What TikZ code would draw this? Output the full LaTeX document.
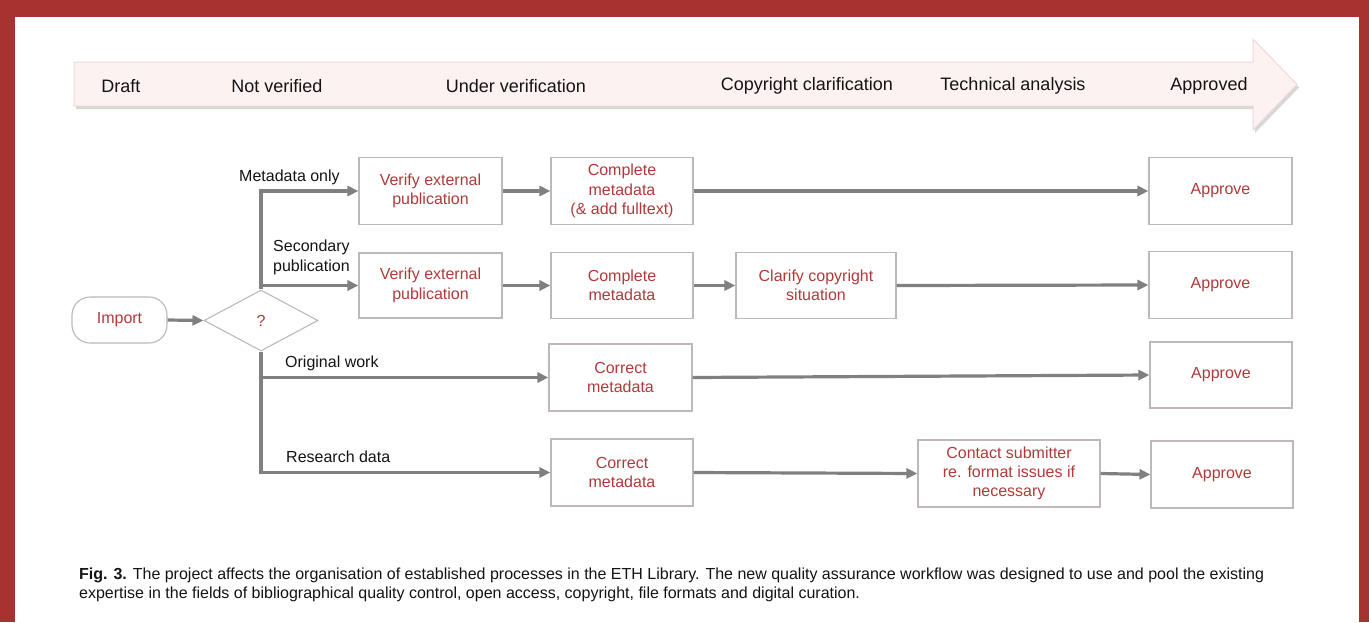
\documentclass[tikz,border=0pt]{standalone}
\usepackage{fontspec}
\setmainfont{Liberation Sans}
\usetikzlibrary{arrows.meta,shapes.geometric,shadows}
\definecolor{framered}{RGB}{168,50,48}
\definecolor{txtred}{RGB}{176,58,58}
\definecolor{boxgray}{RGB}{192,184,184}
\definecolor{linegray}{RGB}{128,128,128}
\definecolor{bannerfill}{RGB}{253,242,242}
\definecolor{bannerline}{RGB}{238,216,216}
\definecolor{txtblack}{RGB}{20,20,20}
\begin{document}
\begin{tikzpicture}[x=1pt,y=-1pt,
  box/.style={draw=boxgray,line width=1.1pt,text=txtred,font=\fontsize{16}{19.3}\selectfont,align=center,inner sep=0pt,fill=white},
  lbl/.style={font=\fontsize{16}{19.3}\selectfont,text=txtblack,inner sep=0pt,align=left},
  stage/.style={font=\fontsize{18}{21}\selectfont,text=txtblack,inner sep=0pt},
  capt/.style={font=\fontsize{16}{19}\selectfont,text=txtblack,inner sep=0pt},
  conn/.style={draw=linegray,line width=3.2pt},
  arr/.style={conn,-{Triangle[length=11pt,width=10pt]}},
  ]
\useasboundingbox (0,0) rectangle (1369,622);
\fill[framered] (0,0) rectangle (1369,622);
\fill[white] (15,17) rectangle (1359,622);

% stage banner
\draw[draw=bannerline,fill=bannerfill,line width=1pt,
  drop shadow={shadow xshift=2pt,shadow yshift=-3pt,opacity=0.22,fill=black!70}]
  (74,62) -- (1253,62) -- (1253,39) -- (1297,84.5) -- (1253,130) -- (1253,106) -- (74,106) -- cycle;
\node[stage] (s1) at (121,86) {Draft};
\node[stage] (s2) at (277,86) {Not verified};
\node[stage] (s3) at (516,86) {Under verification};
\node[stage] (s4) at (807,86) {Copyright clarification};
\node[stage] (s5) at (1013,86) {Technical analysis};
\node[stage] (s6) at (1209,86) {Approved};

% start and decision
\node[box,rounded corners=18pt,minimum width=95pt,minimum height=46pt] (imp) at (119.5,320) {Import};
\node[box,diamond,aspect=1.87,minimum width=114pt,minimum height=61pt] (dq) at (261,320.5) {?};

% row 1
\node[box,minimum width=143pt,minimum height=67pt] (r1a) at (430.5,191) {Verify external\\publication};
\node[box,minimum width=142pt,minimum height=67pt] (r1b) at (622,191) {Complete\\metadata\\(\& add fulltext)};
\node[box,minimum width=143pt,minimum height=67pt] (r1c) at (1220.5,191) {Approve};
% row 2
\node[box,minimum width=143pt,minimum height=65pt] (r2a) at (430.5,285.5) {Verify external\\publication};
\node[box,minimum width=142pt,minimum height=66pt] (r2b) at (622,285.5) {Complete\\metadata};
\node[box,minimum width=160pt,minimum height=66pt] (r2c) at (816,285.5) {Clarify copyright\\situation};
\node[box,minimum width=143pt,minimum height=67pt] (r2d) at (1220.5,285) {Approve};
% row 3
\node[box,minimum width=143pt,minimum height=67pt] (r3a) at (620.5,377.5) {Correct\\metadata};
\node[box,minimum width=142pt,minimum height=66pt] (r3b) at (1221,375) {Approve};
% row 4
\node[box,minimum width=142pt,minimum height=67pt] (r4a) at (622,472.5) {Correct\\metadata};
\node[box,minimum width=182pt,minimum height=67pt] (r4b) at (1009,473.5) {Contact submitter\\re. format issues if\\necessary};
\node[box,minimum width=142pt,minimum height=67pt] (r4c) at (1222,474.5) {Approve};

% branch labels
\node[lbl,anchor=west] (l1) at (239,177) {Metadata only};
\node[lbl,anchor=west] (l2) at (273,257.5) {Secondary\\publication};
\node[lbl,anchor=west] (l3) at (285,363) {Original work};
\node[lbl,anchor=west] (l4) at (286,457) {Research data};

% connectors
\draw[arr] (imp.east) -- (dq.west);
\draw[arr] (dq.north) |- (r1a.west);
\draw[arr] (dq.north) |- (r2a.west);
\draw[arr] (dq.south) |- (r3a.west);
\draw[arr] (dq.south) |- (r4a.west);
\draw[arr] (r1a.east) -- (r1b.west);
\draw[arr] (r1b.east) -- (r1c.west);
\draw[arr] (r2a.east) -- (r2b.west);
\draw[arr] (r2b.east) -- (r2c.west);
\draw[arr] (r2c.east) -- (r2d.west);
\draw[arr] (r3a.east) -- (r3b.west);
\draw[arr] (r4a.east) -- (r4b.west);
\draw[arr] (r4b.east) -- (r4c.west);

% caption
\node[capt,anchor=base west] (c1) at (79,579) {\textbf{Fig. 3.} The project affects the organisation of established processes in the ETH Library. The new quality assurance workflow was designed to use and pool the existing};
\node[capt,anchor=base west] (c2) at (79,598) {expertise in the fields of bibliographical quality control, open access, copyright, file formats and digital curation.};
\end{tikzpicture}
\end{document}
